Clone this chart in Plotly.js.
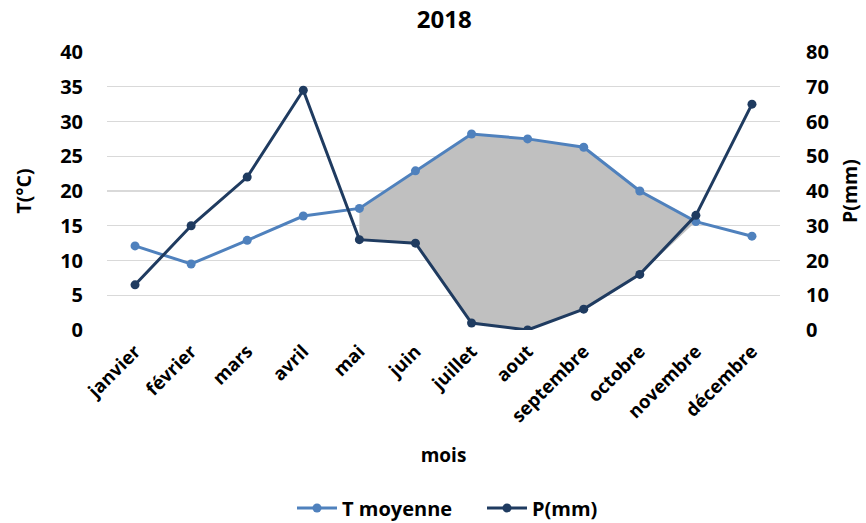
<!DOCTYPE html>
<html>
<head>
<meta charset="utf-8">
<script src="https://cdn.plot.ly/plotly-3.0.1.min.js"></script>
<style>
  html, body { margin: 0; padding: 0; background: #fff; }
  #chart { width: 866px; height: 523px; }
</style>
</head>
<body>
<div id="chart"></div>
<script>
// Monthly climate data, 2018
const mois = ['janvier', 'février', 'mars', 'avril', 'mai', 'juin', 'juillet',
              'aout', 'septembre', 'octobre', 'novembre', 'décembre'];
const tMoyenne = [12.1, 9.5, 12.9, 16.4, 17.5, 22.9, 28.2, 27.5, 26.3, 20.0, 15.6, 13.5];
const pluie = [13, 30, 44, 69, 26, 25, 2, 0, 6, 16, 33, 65];

// Dry period (P < 2T), from mai to novembre
const dryStart = 4, dryEnd = 10;

const dryX = [], dryY = [];
for (let i = dryStart; i <= dryEnd; i++) { dryX.push(mois[i]); dryY.push(tMoyenne[i]); }
for (let i = dryEnd; i >= dryStart; i--) {
  dryX.push(mois[i]);
  dryY.push(Math.min(tMoyenne[i], pluie[i] / 2));
}

const font = { family: 'Open Sans, Lato, sans-serif', color: '#000', weight: 'bold' };
const f = (size) => Object.assign({}, font, { size: size });
const tColor = '#4f81bd';
const pColor = '#1f3b60';

const traces = [
  {
    x: dryX, y: dryY, type: 'scatter', mode: 'lines',
    fill: 'toself', fillcolor: '#c0c0c0',
    line: { width: 0, color: '#c0c0c0' },
    showlegend: false, hoverinfo: 'skip', xaxis: 'x', yaxis: 'y'
  },
  {
    x: mois, y: tMoyenne, name: 'T moyenne', type: 'scatter', mode: 'lines+markers',
    line: { color: tColor, width: 3 }, marker: { color: tColor, size: 9 },
    xaxis: 'x', yaxis: 'y'
  },
  {
    x: mois, y: pluie, name: 'P(mm)', type: 'scatter', mode: 'lines+markers',
    line: { color: pColor, width: 3 }, marker: { color: pColor, size: 9 },
    xaxis: 'x', yaxis: 'y2'
  }
];

const layout = {
  width: 866, height: 523,
  margin: { l: 107, r: 86, t: 52, b: 193 },
  paper_bgcolor: '#fff', plot_bgcolor: '#fff',
  font: f(20),
  title: { text: '2018', x: 0.513, xanchor: 'center', y: 0.962, yanchor: 'middle', font: f(24) },
  xaxis: {
    type: 'category', categoryarray: mois, range: [-0.5, 11.5],
    tickangle: -45, showgrid: false, showline: false, ticks: '', zeroline: false,
    tickfont: f(18.5), ticklabelstandoff: 6,
    title: { text: 'mois', font: f(19), standoff: 22 }
  },
  yaxis: {
    range: [0, 40], dtick: 5, showgrid: true, gridcolor: '#d9d9d9', gridwidth: 1.3,
    zeroline: false, showline: false, ticks: '', ticklabelstandoff: 23,
    tickfont: f(20),
    title: { text: 'T(°C)', font: f(19.5), standoff: 23 }
  },
  yaxis2: {
    overlaying: 'y', side: 'right', range: [0, 80], dtick: 10,
    showgrid: false, zeroline: false, showline: false, ticks: '', ticklabelstandoff: 25,
    tickfont: f(20),
    title: { text: 'P(mm)', font: f(19.5), standoff: 15 }
  },
  legend: {
    orientation: 'h', x: 0.2749, xanchor: 'left',
    yref: 'container', y: 1 - 508 / 523, yanchor: 'middle',
    font: f(20), itemwidth: 40, entrywidth: 135
  },
  showlegend: true
};

Plotly.newPlot('chart', traces, layout, { displayModeBar: false, staticPlot: true });
</script>
</body>
</html>
